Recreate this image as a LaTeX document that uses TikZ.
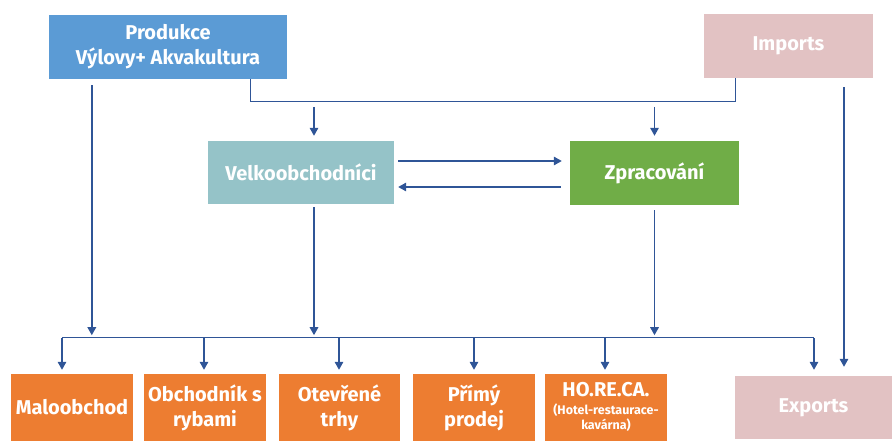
\documentclass[tikz,border=0pt]{standalone}
\usepackage{fontspec}
\setmainfont{Fira Sans}
\usetikzlibrary{arrows.meta,calc}
\definecolor{arrowblue}{RGB}{47,85,151}
\definecolor{prodblue}{RGB}{91,155,213}
\definecolor{velkteal}{RGB}{149,195,200}
\definecolor{zprgreen}{RGB}{112,173,71}
\definecolor{tradepink}{RGB}{226,194,195}
\definecolor{outorange}{RGB}{237,125,49}
\begin{document}
\begin{tikzpicture}[x=1pt,y=-1pt,
  box/.style={rectangle, inner sep=0pt, text=white, align=center,
    font=\bfseries\fontsize{20}{25}\selectfont},
  arr/.style={draw=arrowblue, line width=1.6pt, -{Triangle[length=8pt,width=8.5pt]}},
  bar/.style={draw=arrowblue, line width=1pt}]
\useasboundingbox (0,0) rectangle (892,441);
\node[box, fill=prodblue, minimum width=238pt, minimum height=64pt] (prod) at (168,47) {Produkce\\Výlovy+ Akvakultura};
\node[box, fill=tradepink, minimum width=169pt, minimum height=64pt] (imp) at (788.5,46) {Imports};
\node[box, fill=velkteal, minimum width=186pt, minimum height=63pt] (velk) at (301,172.5) {Velkoobchodníci};
\node[box, fill=zprgreen, minimum width=169pt, minimum height=64pt] (zpr) at (654.5,173) {Zpracování};
\node[box, fill=outorange, minimum width=122pt, minimum height=67pt] (mal) at (72,407.5) {Maloobchod};
\node[box, fill=outorange, minimum width=122pt, minimum height=67pt] (obc) at (205,407.5) {Obchodník s\\rybami};
\node[box, fill=outorange, minimum width=121pt, minimum height=67pt] (otv) at (339.5,407.5) {Otevřené\\trhy};
\node[box, fill=outorange, minimum width=122pt, minimum height=67pt] (pri) at (474,407.5) {Přímý\\prodej};
\node[box, fill=outorange, minimum width=122pt, minimum height=67pt] (hor) at (606,407.5) {\raisebox{-6pt}{\begin{tabular}{@{}c@{}}HO.RE.CA.\\[-7pt]{\fontsize{12.5}{15}\selectfont(Hotel-restaurace-}\\[-10pt]{\fontsize{12.5}{15}\selectfont kavárna)}\end{tabular}}};
\node[box, fill=tradepink, minimum width=157pt, minimum height=63pt] (exp) at (813.5,407.5) {Exports};
% production + imports joint line
\draw[bar] ($(prod.south)+(82,0)$) |- ($(imp.south)+(-53.5,23)$) -- ($(imp.south)+(-53.5,0)$);
\draw[arr] ($(velk.north)+(13,-34)$) -- ($(velk.north)+(13,-5)$);
\draw[arr] ($(zpr.north)+(0,-34)$) -- ($(zpr.north)+(0,-5)$);
% between wholesalers and processing
\draw[arr] ($(velk.east)+(4,-11.5)$) -- ($(zpr.west)+(-8,-12)$);
\draw[arr] ($(zpr.west)+(-9,14)$) -- ($(velk.east)+(4,14.5)$);
% down to the bus
\draw[arr] ($(prod.south west)+(43,6)$) -- ++(0,250);
\draw[arr] ($(velk.south)+(13,3)$) -- ++(0,128);
\draw[arr] ($(zpr.south)+(0,5)$) -- ++(0,125);
\draw[arr] ($(imp.south)+(55.5,9)$) -- ($(exp.north)+(30.5,-9)$);
% bus
\draw[bar] ($(mal.north)+(-10,-36)$) -- ($(exp.north)+(0.5,-38)$);
\draw[arr] ($(mal.north)+(-10,-36)$) -- ($(mal.north)+(-10,-4)$);
\draw[arr] ($(obc.north)+(-1,-36)$) -- ($(obc.north)+(-1,-4)$);
\draw[arr] ($(otv.north)+(-0.5,-36)$) -- ($(otv.north)+(-0.5,-4)$);
\draw[arr] ($(pri.north)+(0,-36)$) -- ($(pri.north)+(0,-4)$);
\draw[arr] ($(hor.north)+(-1,-36)$) -- ($(hor.north)+(-1,-4)$);
\draw[arr] ($(exp.north)+(0.5,-38)$) -- ($(exp.north)+(0.5,-6)$);
\end{tikzpicture}
\end{document}
